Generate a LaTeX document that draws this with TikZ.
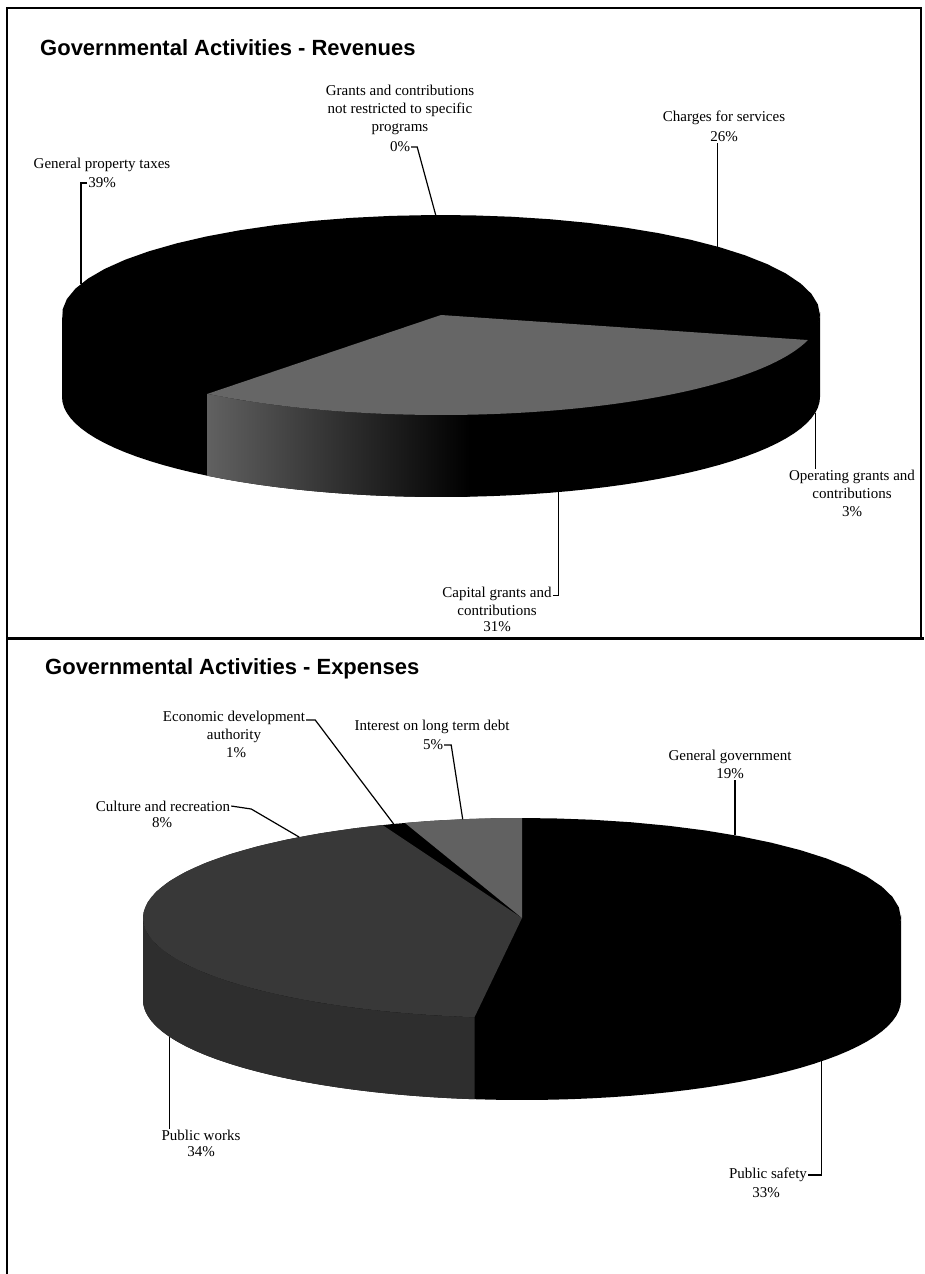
\documentclass[tikz,border=0pt]{standalone}
\usepackage{fontspec}
\setmainfont{Liberation Serif}
\newfontfamily\ttlfont{Liberation Sans}
\colorlet{capgrey}{black!60}
\colorlet{pwgrey}{black!78}
\colorlet{pwside}{black!82}
\colorlet{intgrey}{black!62}
% top face wedge and side band of a 3-D pie (rx 379, ry 100, depth 82)
\newcommand{\wedgepath}[4]{(#1,#2) -- plot[domain=#3:#4,samples=60] ({#1+379*cos(\x)},{#2+100*sin(\x)}) -- cycle}
\newcommand{\sidepath}[4]{plot[domain=#3:#4,samples=60] ({#1+379*cos(\x)},{#2-3+100*sin(\x)}) -- plot[domain=#4:#3,samples=60] ({#1+379*cos(\x)},{#2+82+100*sin(\x)}) -- cycle}
\begin{document}
\begin{tikzpicture}[x=1pt,y=-1pt,
  lbl/.style={font=\fontsize{15}{18}\selectfont, align=center, inner sep=1pt},
  ttl/.style={font=\ttlfont\bfseries\fontsize{22}{26}\selectfont, anchor=west, inner sep=0pt},
  lead/.style={line width=1.2pt}]
\useasboundingbox (0,0) rectangle (924,1274);
\fill[white] (0,0) rectangle (924,1274);
% frame
\draw[line width=2pt] (7,1274) -- (7,8) -- (921,8) -- (921,638);
\draw[line width=3pt] (7,638) -- (924,638);

% revenues
\node[ttl] (revttl) at (40,48) {Governmental Activities - Revenues};
\fill[black] \sidepath{441}{315}{0}{180};
\begin{scope}
\clip \sidepath{441}{315}{14.5}{128};
\shade[left color=black!62, right color=black] (207,370) rectangle (470,500);
\end{scope}
\fill[black] \wedgepath{441}{315}{0}{360};
\fill[capgrey] \wedgepath{441}{315}{14.5}{128};

\coordinate (gptpt) at ({441+379*cos(198.2)},{315+100*sin(198.2)});
\coordinate (grtpt) at ({441+379*cos(269.2)},{315+100*sin(269.2)});
\coordinate (chgpt) at ({441+379*cos(316.8)},{315+100*sin(316.8)});
\coordinate (opgpt) at ({441+379*cos(9.1)},{397+100*sin(9.1)});
\coordinate (cappt) at ({441+379*cos(72)},{397+100*sin(72)});

\node[lbl] (gpt) at (102,165) {General property taxes};
\node[lbl] (gptv) at (102,183) {39\%};
\node[lbl] (grt) at (400,110) {Grants and contributions\\not restricted to specific\\programs};
\node[lbl] (grtv) at (400,147) {0\%};
\node[lbl] (chg) at (724,118) {Charges for services};
\node[lbl] (chgv) at (724,137) {26\%};
\node[lbl] (opg) at (852,484) {Operating grants and\\contributions};
\node[lbl] (opgv) at (852,512) {3\%};
\node[lbl] (cap) at (497,601) {Capital grants and\\contributions};
\node[lbl] (capv) at (497,627) {31\%};

\draw[lead] (gptv.west) -| (gptpt);
\draw[lead] (grtv.east) -- ++(6,0) -- (grtpt);
\draw[lead] (chgv.south -| chgpt) -- (chgpt);
\draw[lead] (opgpt) -- (opgpt |- opg.north);
\draw[lead] ([yshift=-10pt]cap.north east) -| (cappt);

% expenses
\node[ttl] (expttl) at (45,669) {Governmental Activities - Expenses};
\fill[black] \sidepath{522}{918}{0}{180};
\fill[pwside] \sidepath{522}{918}{97.2}{180};
\fill[black] \wedgepath{522}{918}{0}{360};
\fill[pwgrey] \wedgepath{522}{918}{97.2}{248.4};
\fill[intgrey] \wedgepath{522}{918}{252}{270};

\coordinate (ggpt) at ({522+379*cos(304.2)},{918+100*sin(304.2)});
\coordinate (pspt) at ({522+379*cos(37.8)},{1000+100*sin(37.8)});
\coordinate (pwpt) at ({522+379*cos(158.4)},{1000+100*sin(158.4)});
\coordinate (cultpt) at ({522+379*cos(234)},{918+100*sin(234)});
\coordinate (ecopt) at ({522+379*cos(250.2)},{918+100*sin(250.2)});
\coordinate (intpt) at ({522+379*cos(261)},{918+100*sin(261)});

\node[lbl] (eco) at (234,727) {Economic development\\authority};
\node[lbl] (ecov) at (236,753) {1\%};
\node[lbl] (int) at (432,727) {Interest on long term debt};
\node[lbl] (intv) at (433,745) {5\%};
\node[lbl] (cult) at (163,806) {Culture and recreation};
\node[lbl] (cultv) at (162,823) {8\%};
\node[lbl] (gg) at (730,757) {General government};
\node[lbl] (ggv) at (730,774) {19\%};
\node[lbl] (pw) at (201,1135) {Public works};
\node[lbl] (pwv) at (201,1152) {34\%};
\node[lbl] (ps) at (768,1175) {Public safety};
\node[lbl] (psv) at (766,1193) {33\%};

\draw[lead] ([yshift=-10pt]eco.north east) -- ++(9,0) -- (ecopt);
\draw[lead] (intv.east) -- ++(7,0) -- (intpt);
\draw[lead] (cult.east) -- ++(20,3) -- (cultpt);
\draw[lead] (ggv.south -| ggpt) -- (ggpt);
\draw[lead] (pwpt) -- (pwpt |- pw.north);
\draw[lead] (ps.east) -| (pspt);
\end{tikzpicture}
\end{document}
